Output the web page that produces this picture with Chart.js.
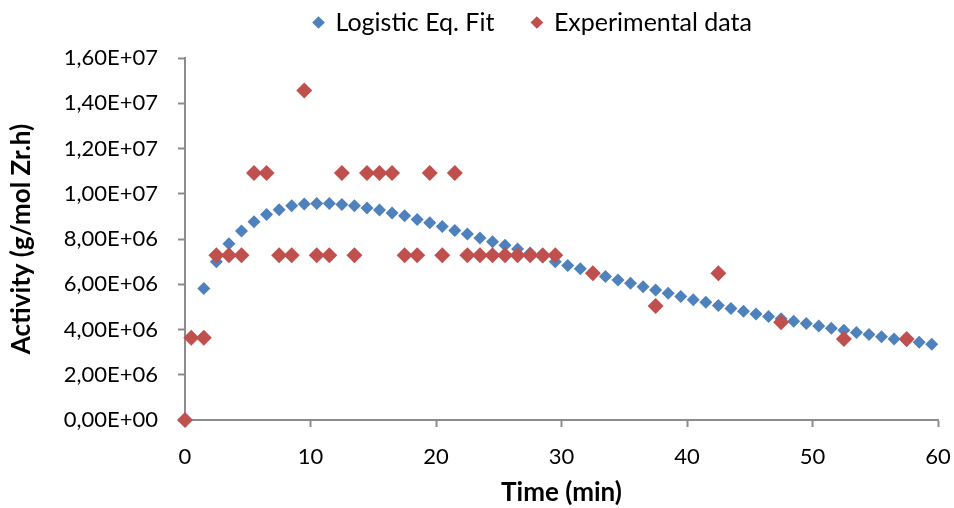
<!DOCTYPE html>
<html>
<head>
<meta charset="utf-8">
<script src="https://cdn.jsdelivr.net/npm/chart.js@4"></script>
<style>
  html, body { margin: 0; padding: 0; background: #fff; }
  #wrap { width: 954px; height: 508px; }
</style>
</head>
<body>
<div id="wrap"><canvas id="chart" width="954" height="508"></canvas></div>
<script>
// logistic fit, one point per minute
const fitTime = [1.5, 2.5, 3.5, 4.5, 5.5, 6.5, 7.5, 8.5, 9.5, 10.5,
  11.5, 12.5, 13.5, 14.5, 15.5, 16.5, 17.5, 18.5, 19.5, 20.5,
  21.5, 22.5, 23.5, 24.5, 25.5, 26.5, 27.5, 28.5, 29.5, 30.5,
  31.5, 32.5, 33.5, 34.5, 35.5, 36.5, 37.5, 38.5, 39.5, 40.5,
  41.5, 42.5, 43.5, 44.5, 45.5, 46.5, 47.5, 48.5, 49.5, 50.5,
  51.5, 52.5, 53.5, 54.5, 55.5, 56.5, 57.5, 58.5, 59.5];
const fitActivity = [5.81e6, 6.99e6, 7.79e6, 8.35e6, 8.76e6, 9.08e6, 9.29e6, 9.47e6, 9.55e6, 9.57e6,
  9.57e6, 9.53e6, 9.47e6, 9.37e6, 9.28e6, 9.15e6, 9.03e6, 8.86e6, 8.72e6, 8.55e6,
  8.38e6, 8.22e6, 8.04e6, 7.88e6, 7.72e6, 7.56e6, 7.38e6, 7.20e6, 7.00e6, 6.83e6,
  6.68e6, 6.51e6, 6.34e6, 6.19e6, 6.04e6, 5.89e6, 5.75e6, 5.60e6, 5.46e6, 5.31e6,
  5.20e6, 5.06e6, 4.93e6, 4.81e6, 4.69e6, 4.58e6, 4.47e6, 4.37e6, 4.27e6, 4.16e6,
  4.06e6, 3.97e6, 3.87e6, 3.78e6, 3.68e6, 3.58e6, 3.51e6, 3.44e6, 3.35e6];

// measured points
const expTime = [0, 0.5, 1.5, 2.5, 3.5, 4.5, 5.5, 6.5, 7.5, 8.5,
  9.5, 10.5, 11.5, 12.5, 13.5, 14.5, 15.5, 16.5, 17.5, 18.5,
  19.5, 20.5, 21.5, 22.5, 23.5, 24.5, 25.5, 26.5, 27.5, 28.5,
  29.5, 32.5, 37.5, 42.5, 47.5, 52.5, 57.5];
const expActivity = [0, 3.64e6, 3.64e6, 7.28e6, 7.28e6, 7.28e6, 10.92e6, 10.92e6, 7.28e6, 7.28e6,
  14.56e6, 7.28e6, 7.28e6, 10.92e6, 7.28e6, 10.92e6, 10.92e6, 10.92e6, 7.28e6, 7.28e6,
  10.92e6, 7.28e6, 10.92e6, 7.28e6, 7.28e6, 7.28e6, 7.28e6, 7.28e6, 7.28e6, 7.28e6,
  7.28e6, 6.49e6, 5.04e6, 6.49e6, 4.32e6, 3.58e6, 3.58e6];

const seriesNames = ['Logistic Eq. Fit', 'Experimental data'];
const xTitle = 'Time (min)';
const yTitle = 'Activity (g/mol Zr.h)';

const toPoints = (xs, ys) => xs.map((x, i) => ({ x, y: ys[i] }));

// excel style: 1,60E+07
function sciLabel(v) {
  if (v === 0) return '0,00E+00';
  const e = Math.floor(Math.log10(Math.abs(v)) + 1e-9);
  const m = v / Math.pow(10, e);
  return m.toFixed(2).replace('.', ',') + 'E+' + String(e).padStart(2, '0');
}

const axisGray = '#8c8c8c';
const font = 'Lato';

// legend sits higher and a bit right of the canvas centre, like in excel
const legendShift = {
  id: 'legendShift',
  beforeInit(chart) {
    const fit = chart.legend.fit;
    chart.legend.fit = function () {
      fit.call(this);
      this.height = 58;
    };
  },
  afterLayout(chart) {
    const lg = chart.legend;
    lg.left += 56;
    lg.right += 56;
    lg.top -= 28;
  }
};

const ctx = document.getElementById('chart').getContext('2d');
new Chart(ctx, {
  type: 'scatter',
  data: {
    datasets: [
      {
        label: seriesNames[0],
        data: toPoints(fitTime, fitActivity),
        pointStyle: 'rectRot',
        pointRadius: 6.5,
        pointBorderWidth: 0,
        backgroundColor: '#4F81BD',
        borderColor: '#4F81BD',
        clip: false,
        order: 2
      },
      {
        label: seriesNames[1],
        data: toPoints(expTime, expActivity),
        pointStyle: 'rectRot',
        pointRadius: 8,
        pointBorderWidth: 0,
        backgroundColor: '#C0504D',
        borderColor: '#C0504D',
        clip: false,
        order: 1
      }
    ]
  },
  options: {
    responsive: false,
    animation: false,
    devicePixelRatio: 1,
    layout: { padding: 0 },
    plugins: {
      tooltip: { enabled: false },
      legend: {
        position: 'top',
        labels: {
          usePointStyle: true,
          pointStyle: 'rectRot',
          boxWidth: 9,
          boxHeight: 9,
          padding: 38,
          color: '#000',
          font: { family: font, size: 25 },
          sort: (a, b) => a.datasetIndex - b.datasetIndex
        }
      }
    },
    scales: {
      x: {
        type: 'linear',
        min: 0,
        max: 60,
        ticks: {
          stepSize: 10,
          padding: 17,
          color: '#000',
          font: { family: font, size: 22 }
        },
        grid: {
          drawOnChartArea: false,
          drawTicks: true,
          tickLength: 7,
          tickColor: axisGray,
          tickWidth: 2
        },
        border: { color: axisGray, width: 2 },
        title: {
          display: true,
          text: xTitle,
          color: '#000',
          font: { family: font, size: 26, weight: 'bold' },
          padding: { top: -2, bottom: 0 }
        },
        afterFit(scale) {
          scale.height = 88;
          scale.paddingRight = 16;
        }
      },
      y: {
        min: 0,
        max: 16000000,
        ticks: {
          stepSize: 2000000,
          padding: 20,
          color: '#000',
          font: { family: font, size: 22 },
          callback: (v) => sciLabel(v)
        },
        grid: {
          drawOnChartArea: false,
          drawTicks: true,
          tickLength: 7,
          tickColor: axisGray,
          tickWidth: 2
        },
        border: { color: axisGray, width: 2 },
        title: {
          display: true,
          text: yTitle,
          color: '#000',
          font: { family: font, size: 26, weight: 'bold' },
          padding: { top: 6, bottom: 0 }
        },
        afterFit(scale) { scale.width = 185; }
      }
    }
  },
  plugins: [legendShift]
});
</script>
</body>
</html>
